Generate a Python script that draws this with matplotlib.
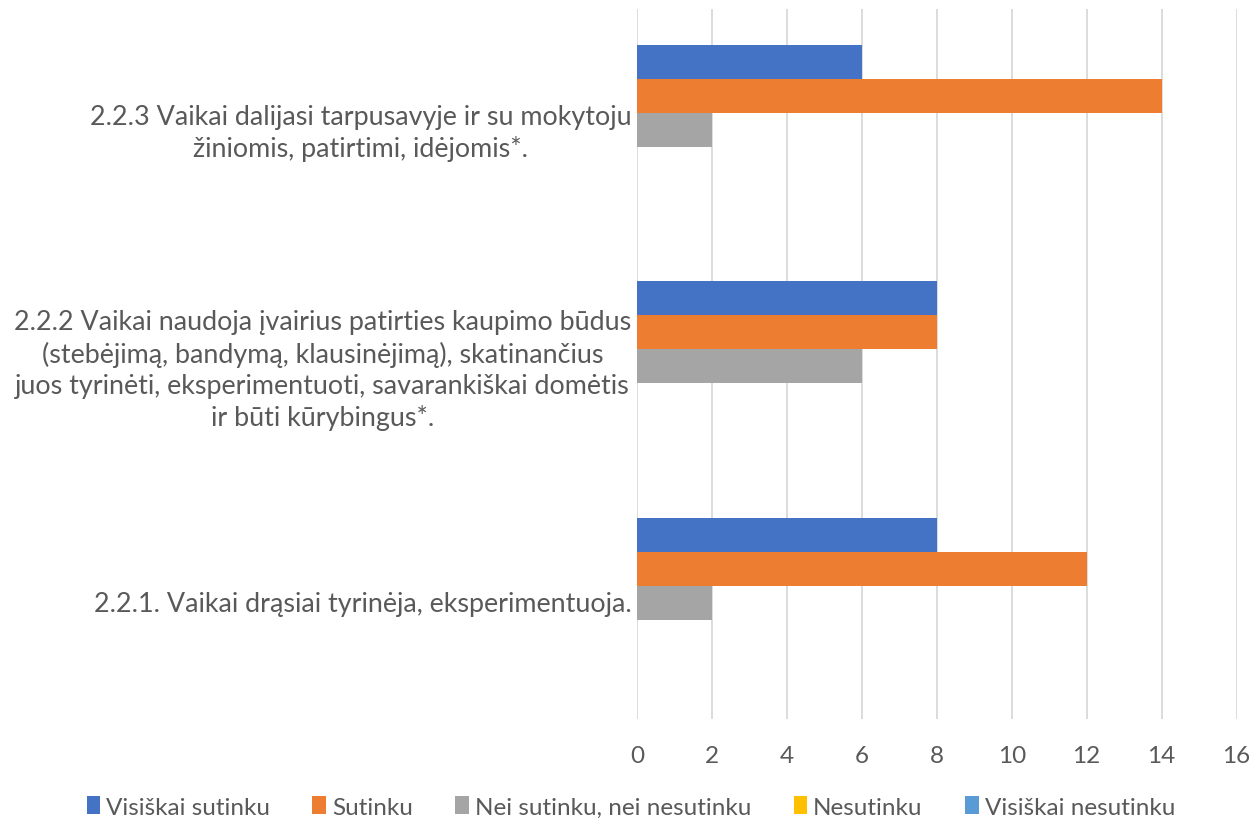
import matplotlib.pyplot as plt
import numpy as np

plt.rcParams['font.family'] = ['Lato', 'DejaVu Sans']

# kategorijos (nuo apacios i virsu)
categories = [
    "2.2.1. Vaikai drąsiai tyrinėja, eksperimentuoja.",
    "2.2.2 Vaikai naudoja įvairius patirties kaupimo būdus\n(stebėjimą, bandymą, klausinėjimą), skatinančius\njuos tyrinėti, eksperimentuoti, savarankiškai domėtis\nir būti kūrybingus*.",
    "2.2.3 Vaikai dalijasi tarpusavyje ir su mokytoju\nžiniomis, patirtimi, idėjomis*.",
]
series_names = ["Visiškai sutinku", "Sutinku", "Nei sutinku, nei nesutinku",
                "Nesutinku", "Visiškai nesutinku"]
visiskai_sutinku = [8, 8, 6]
sutinku = [12, 8, 14]
nei_nei = [2, 6, 2]
nesutinku = [0, 0, 0]
visiskai_nesutinku = [0, 0, 0]
x_ticks = [0, 2, 4, 6, 8, 10, 12, 14, 16]

colors = ["#4472C4", "#ED7D31", "#A5A5A5", "#FFC000", "#5B9BD5"]
text_col = "#595959"

fig = plt.figure(figsize=(12.49, 8.2), dpi=100)
ax = fig.add_axes([0.51, 0.122, 0.48, 0.866])

all_series = [visiskai_sutinku, sutinku, nei_nei, nesutinku, visiskai_nesutinku]
y = np.arange(len(categories))
h = 0.1435
for i, (vals, name) in enumerate(zip(all_series, series_names)):
    ax.barh(y + (2 - i) * h - 0.01, vals, height=h, color=colors[i], label=name, zorder=3)

ax.set_ylim(-0.5, 2.5)
ax.set_xlim(0, 16)
ax.set_xticks(x_ticks)
ax.set_yticks(y)
ax.set_yticklabels(categories, fontsize=19.4, color=text_col, ha="right",
                   multialignment="center", linespacing=1.3)
ax.tick_params(axis="y", length=0, pad=4)
ax.tick_params(axis="x", length=0, labelsize=17.5, labelcolor=text_col, pad=19)
ax.grid(axis="x", color="#D9D9D9", linewidth=1.3, zorder=0)
for s in ax.spines.values():
    s.set_visible(False)

leg = fig.legend(loc="lower center", bbox_to_anchor=(0.505, -0.025), ncol=5,
                 frameon=False, fontsize=17.5, handlelength=0.55, handleheight=0.8,
                 handletextpad=0.25, columnspacing=1.75, labelcolor=text_col)

fig.savefig("out.png", dpi=100)
